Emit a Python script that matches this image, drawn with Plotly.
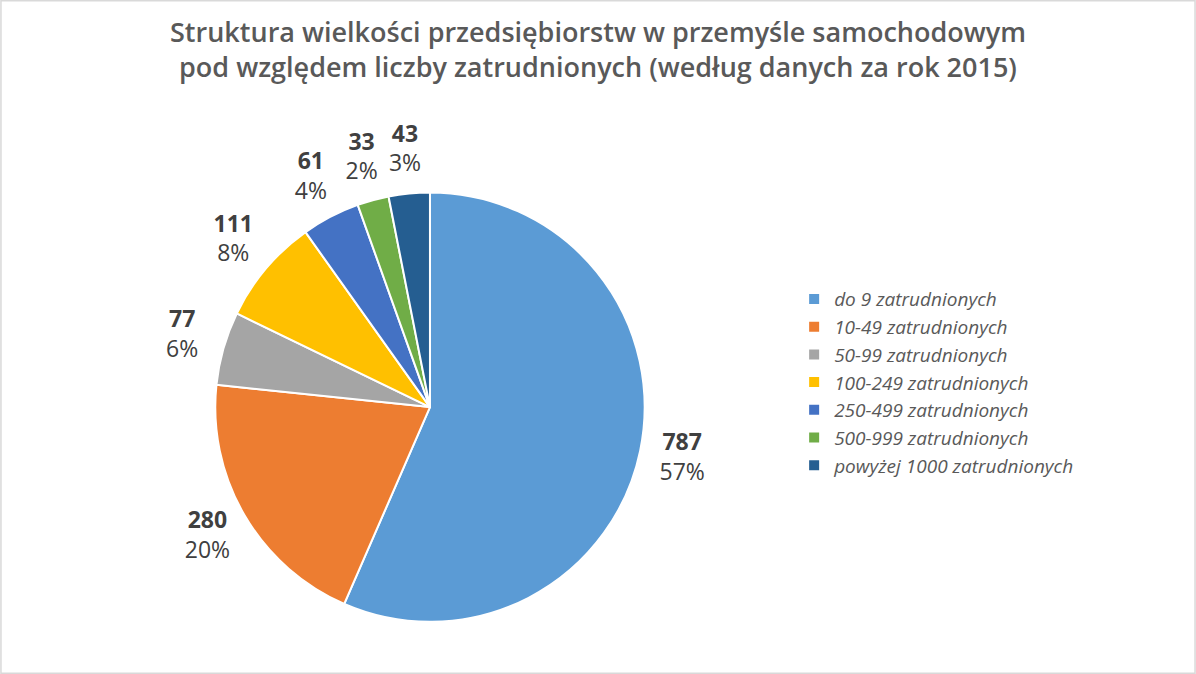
import plotly.graph_objects as go

categories = ["do 9 zatrudnionych", "10-49 zatrudnionych", "50-99 zatrudnionych",
              "100-249 zatrudnionych", "250-499 zatrudnionych", "500-999 zatrudnionych",
              "powyżej 1000 zatrudnionych"]
values = [787, 280, 77, 111, 61, 33, 43]
colors = ["#5B9BD5", "#ED7D31", "#A5A5A5", "#FFC000", "#4472C4", "#70AD47", "#255E91"]

total = sum(values)
# mid-angle of each slice (degrees, clockwise from 12 o'clock), derived from the values
mid_angles = []
acc = 0
for v in values:
    mid_angles.append((acc + v / 2) / total * 360)
    acc += v
label_texts = [f"<b>{v}</b><br>{round(100 * v / total)}%" for v in values]

cx, cy, half = 0.3595, 0.396, 0.1795   # pie centre / half-size (paper fractions)
hy = 0.319
pie_domain = dict(x=[cx - half, cx + half], y=[cy - hy, cy + hy])
k = 1.24  # polar subplot is k times larger so radius 1 = pie edge
polar_domain = dict(x=[cx - half * k, cx + half * k], y=[cy - hy * k, cy + hy * k])

fig = go.Figure()
fig.add_trace(go.Pie(
    labels=categories, values=values, sort=False, direction="clockwise", rotation=0,
    marker=dict(colors=colors, line=dict(color="white", width=2)),
    textinfo="none",
    domain=pie_domain,
    hoverinfo="label+value+percent",
))
fig.add_trace(go.Scatterpolar(
    r=[1.2] * len(values), theta=mid_angles, mode="text", text=label_texts,
    textposition="middle center",
    textfont=dict(family="Open Sans", size=23, color="#404040"),
    cliponaxis=False, showlegend=False, hoverinfo="skip",
))

fig.update_layout(
    width=1196, height=674,
    paper_bgcolor="white",
    margin=dict(l=0, r=0, t=0, b=0),
    polar=dict(
        domain=polar_domain, bgcolor="rgba(0,0,0,0)",
        radialaxis=dict(range=[0, k], visible=False, showgrid=False),
        angularaxis=dict(rotation=90, direction="clockwise", visible=False, showgrid=False),
    ),
    title=dict(
        text="Struktura wielkości przedsiębiorstw w przemyśle samochodowym<br>pod względem liczby zatrudnionych (według danych za rok 2015)",
        x=0.5, xanchor="center", y=0.9376, yanchor="top",
        font=dict(family="Open Sans", size=27, color="#595959", weight=600),
    ),
    legend=dict(
        x=0.664, y=0.433, xanchor="left", yanchor="middle",
        font=dict(family="Open Sans", size=19, color="#595959", style="italic"),
        itemwidth=30,
    ),
    shapes=[dict(type="rect", xref="paper", yref="paper",
                 x0=0.0008, y0=0.0012, x1=0.9992, y1=0.9988,
                 line=dict(color="#D9D9D9", width=1.5))],
)
fig.write_html("out.html", config={"displayModeBar": False},
               post_script="document.body.style.margin='0';")
